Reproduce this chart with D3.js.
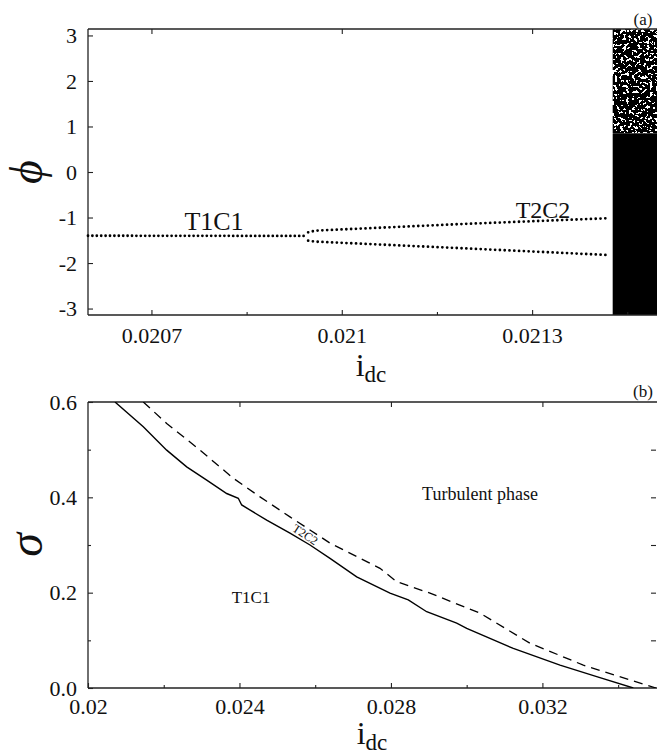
<!DOCTYPE html>
<html><head><meta charset="utf-8">
<script src="https://cdn.jsdelivr.net/npm/d3@7"></script>
<style>
html,body{margin:0;padding:0;background:#fff;}
svg{display:block;}
text{font-family:"Liberation Serif","Times New Roman",serif;fill:#111;}
</style></head>
<body>
<svg id="c" width="657" height="755"></svg>
<script>
// ---------- data: panel (a) ----------
const aXTicks = [0.0207, 0.021, 0.0213];
const aXMinor = [0.02085, 0.02115, 0.02145];
const aYTicks = [-3, -2, -1, 0, 1, 2, 3];
const t1c1I   = [0.0206, 0.02094];
const t1c1Phi = [-1.40, -1.405];
const t2c2I        = [0.020947, 0.020958, 0.020981, 0.021191, 0.021418];
const t2c2UpperPhi = [-1.325, -1.290, -1.274, -1.142, -1.017];
const t2c2LowerPhi = [-1.509, -1.530, -1.544, -1.676, -1.823];
const chaosI   = [0.021427, 0.0215];
const chaosSolidPhi = [-Math.PI, 0.85];
const chaosSpecklePhi = [0.85, Math.PI];

// ---------- data: panel (b) ----------
const bXTicks = [0.02, 0.024, 0.028, 0.032];
const bXMinor = [0.022, 0.026, 0.030, 0.034];
const bYTicks = [0.0, 0.2, 0.4, 0.6];
const bYMinor = [0.1, 0.3, 0.5];
const solidI     = [0.020713, 0.021460, 0.022078, 0.022606, 0.023135, 0.023663, 0.023969, 0.024059, 0.024719, 0.025334, 0.025863, 0.026391, 0.027096, 0.027975, 0.028458, 0.028944, 0.029737, 0.030001, 0.031231, 0.032465, 0.033434, 0.034400];
const solidSigma = [0.600, 0.548, 0.499, 0.464, 0.436, 0.408, 0.398, 0.384, 0.352, 0.325, 0.300, 0.272, 0.233, 0.199, 0.185, 0.160, 0.136, 0.125, 0.083, 0.048, 0.024, 0.000];
const dashedI     = [0.021460, 0.022078, 0.022958, 0.023837, 0.024542, 0.025334, 0.026391, 0.027711, 0.028152, 0.029032, 0.030352, 0.031672, 0.033080, 0.034313, 0.035000];
const dashedSigma = [0.600, 0.555, 0.499, 0.440, 0.401, 0.359, 0.304, 0.251, 0.223, 0.199, 0.157, 0.094, 0.048, 0.017, 0.000];

const SERIF = '"Liberation Serif","Times New Roman",serif';
const svg = d3.select("#c");
const defs = svg.append("defs");

// speckle filter (texture only)
const f = defs.append("filter").attr("id","spk").attr("x",0).attr("y",0).attr("width",1).attr("height",1)
  .attr("filterUnits","objectBoundingBox");
f.append("feTurbulence").attr("type","fractalNoise").attr("baseFrequency","0.34").attr("numOctaves",2).attr("seed",11).attr("result","t");
f.append("feColorMatrix").attr("in","t").attr("type","matrix")
  .attr("values","0 0 0 0 0  0 0 0 0 0  0 0 0 0 0  1 0 0 0 0").attr("result","r");
const ct = f.append("feComponentTransfer").attr("in","r").attr("result","m");
ct.append("feFuncA").attr("type","discrete").attr("tableValues","1 1 1 1 1 1 1 1 1 1 1 1 0 0 0 0 0 0 0 0");
f.append("feComposite").attr("in","SourceGraphic").attr("in2","m").attr("operator","in");

function frame(g, x0, x1, y0, y1){
  g.append("line").attr("x1",x0).attr("x2",x1).attr("y1",y0).attr("y2",y0);
  g.append("line").attr("x1",x0).attr("x2",x1).attr("y1",y1).attr("y2",y1);
  g.append("line").attr("x1",x0).attr("x2",x0).attr("y1",y0).attr("y2",y1);
  g.selectAll("line").attr("stroke","#222").attr("stroke-width",1.3);
}
function styleAxis(sel, fs){
  sel.attr("font-family", null);
  sel.select(".domain").remove();
  sel.selectAll(".tick line").attr("stroke","#222").attr("stroke-width",1.1);
  sel.selectAll(".tick text").attr("font-size",fs).style("font-family",SERIF).attr("fill","#111");
}
const minusFmt = d => d < 0 ? "-" + Math.abs(d) : String(d);

// ================= Panel (a) =================
const ax = d3.scaleLinear().domain([0.0206, 0.0215]).range([88, 659]);
const ay = d3.scaleLinear().domain([-Math.PI, Math.PI]).range([315, 29]);

// chaos region
svg.append("rect").attr("x",ax(chaosI[0])).attr("width",ax(chaosI[1])-ax(chaosI[0]))
  .attr("y",ay(chaosSolidPhi[1])).attr("height",ay(chaosSolidPhi[0])-ay(chaosSolidPhi[1])).attr("fill","#000");
svg.append("rect").attr("x",ax(chaosI[0])).attr("width",ax(chaosI[1])-ax(chaosI[0]))
  .attr("y",ay(chaosSpecklePhi[1])).attr("height",ay(chaosSpecklePhi[0])-ay(chaosSpecklePhi[1])).attr("fill","#000")
  .attr("filter","url(#spk)");

frame(svg.append("g"), 88, 659, 29, 315);

svg.append("g").attr("transform","translate(88,0)")
  .call(d3.axisLeft(ay).tickValues(aYTicks).tickFormat(minusFmt).tickSizeInner(-5).tickPadding(11))
  .call(s=>styleAxis(s,22));
svg.append("g").attr("transform","translate(0,315)")
  .call(d3.axisBottom(ax).tickValues(aXTicks).tickFormat(d=>String(d)).tickSizeInner(-5).tickPadding(12))
  .call(s=>styleAxis(s,22));
svg.append("g").attr("transform","translate(0,315)")
  .call(d3.axisBottom(ax).tickValues(aXMinor).tickFormat("").tickSizeInner(-3))
  .call(s=>styleAxis(s,22));
svg.append("g").attr("transform","translate(0,29)")
  .call(d3.axisTop(ax).tickValues(aXTicks).tickFormat("").tickSizeInner(-5))
  .call(s=>styleAxis(s,22));

const dotLine = d3.line().x(d=>ax(d[0])).y(d=>ay(d[1]));
function dotted(is, ps, gap){
  svg.append("path").attr("d", dotLine(is.map((v,k)=>[v, ps[k]])))
    .attr("fill","none").attr("stroke","#000").attr("stroke-width",2.8)
    .attr("stroke-linecap","round").attr("stroke-dasharray","0 "+gap);
}
dotted(t1c1I, t1c1Phi, 4.4);
dotted(t2c2I, t2c2UpperPhi, 4.8);
dotted(t2c2I, t2c2LowerPhi, 4.8);

svg.append("text").attr("x",214).attr("y",230).attr("text-anchor","middle").attr("font-size",26).text("T1C1");
svg.append("text").attr("x",543).attr("y",218).attr("text-anchor","middle").attr("font-size",24).text("T2C2");
svg.append("text").attr("x",643).attr("y",25).attr("text-anchor","middle").attr("font-size",17).text("(a)");
svg.append("text").attr("transform","translate(42,172) rotate(-90)").attr("text-anchor","middle")
  .attr("font-size",46).attr("font-style","italic").text("\u03D5");
const xl1 = svg.append("text").attr("x",371).attr("y",376).attr("text-anchor","middle");
xl1.append("tspan").attr("font-size",32).text("i");
xl1.append("tspan").attr("font-size",23).attr("dy",6).text("dc");

// ================= Panel (b) =================
const bx = d3.scaleLinear().domain([0.02, 0.035]).range([88, 656]);
const by = d3.scaleLinear().domain([0, 0.6]).range([688, 402]);

svg.append("clipPath").attr("id","cb").append("rect").attr("x",88).attr("y",402).attr("width",570).attr("height",286);
frame(svg.append("g"), 88, 659, 402, 688);

svg.append("g").attr("transform","translate(88,0)")
  .call(d3.axisLeft(by).tickValues(bYTicks).tickFormat(d3.format(".1f")).tickSizeInner(-5).tickPadding(11))
  .call(s=>styleAxis(s,22));
svg.append("g").attr("transform","translate(88,0)")
  .call(d3.axisLeft(by).tickValues(bYMinor).tickFormat("").tickSizeInner(-3))
  .call(s=>styleAxis(s,22));
svg.append("g").attr("transform","translate(656,0)")
  .call(d3.axisRight(by).tickValues([0.1,0.2,0.3,0.4,0.5]).tickFormat("").tickSizeInner(-5))
  .call(s=>styleAxis(s,22));
svg.append("g").attr("transform","translate(0,688)")
  .call(d3.axisBottom(bx).tickValues(bXTicks).tickFormat(d=>String(d)).tickSizeInner(-5).tickPadding(10))
  .call(s=>styleAxis(s,22));
svg.append("g").attr("transform","translate(0,688)")
  .call(d3.axisBottom(bx).tickValues(bXMinor).tickFormat("").tickSizeInner(-3))
  .call(s=>styleAxis(s,22));
svg.append("g").attr("transform","translate(0,402)")
  .call(d3.axisTop(bx).tickValues(bXTicks.slice(1)).tickFormat("").tickSizeInner(-5))
  .call(s=>styleAxis(s,22));

const bLine = d3.line().x(d=>bx(d[0])).y(d=>by(d[1]));
const pb = svg.append("g").attr("clip-path","url(#cb)");
pb.append("path").attr("d", bLine(solidI.map((v,k)=>[v, solidSigma[k]])))
  .attr("fill","none").attr("stroke","#000").attr("stroke-width",1.4);
pb.append("path").attr("d", bLine(dashedI.map((v,k)=>[v, dashedSigma[k]])))
  .attr("fill","none").attr("stroke","#000").attr("stroke-width",1.3).attr("stroke-dasharray","9 6");

svg.append("text").attr("x",251).attr("y",603).attr("text-anchor","middle").attr("font-size",17).text("T1C1");
svg.append("text").attr("x",480).attr("y",500).attr("text-anchor","middle").attr("font-size",18).text("Turbulent phase");
svg.append("text").attr("transform","translate(303,538) rotate(33)").attr("text-anchor","middle")
  .attr("font-size",12).text("T2C2");
svg.append("text").attr("x",643).attr("y",397).attr("text-anchor","middle").attr("font-size",17).text("(b)");
svg.append("text").attr("transform","translate(42,545) rotate(-90)").attr("text-anchor","middle")
  .attr("font-size",48).attr("font-style","italic").text("\u03C3");
const xl2 = svg.append("text").attr("x",372).attr("y",744).attr("text-anchor","middle");
xl2.append("tspan").attr("font-size",32).text("i");
xl2.append("tspan").attr("font-size",23).attr("dy",6).text("dc");
</script>
</body></html>
